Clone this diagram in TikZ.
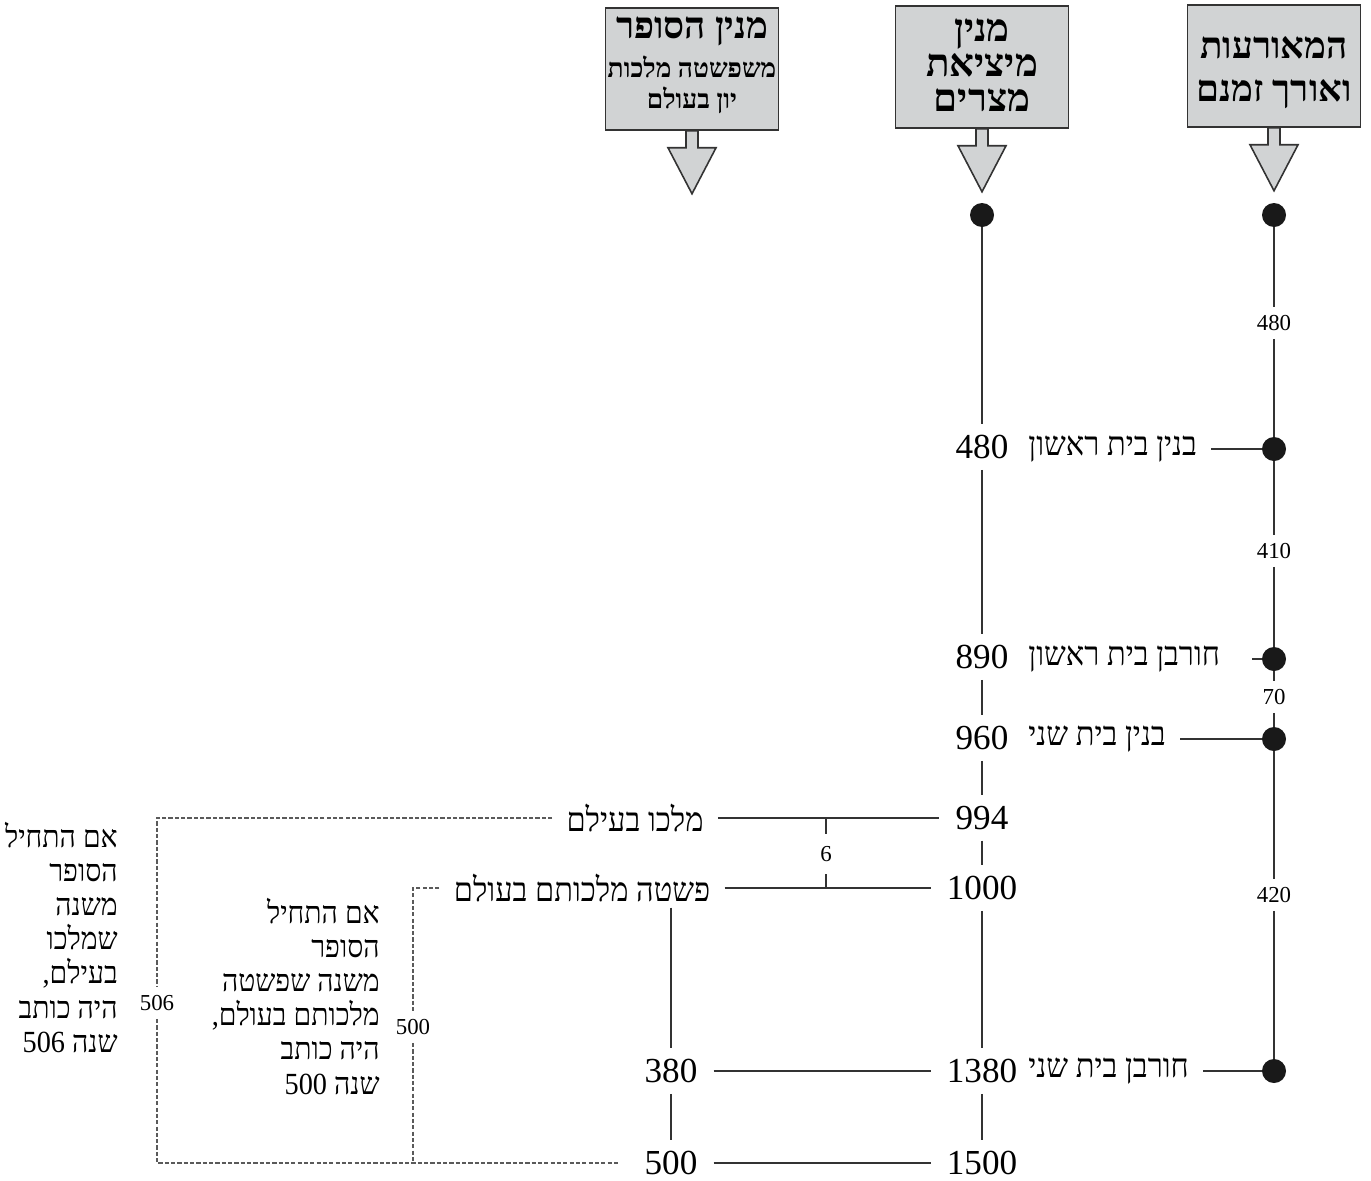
\documentclass[tikz,border=0pt]{standalone}
\usepackage{fontspec}
\setmainfont{Liberation Serif}
\newfontfamily\hebfont[Script=Hebrew, FakeStretch=0.92]{Liberation Serif}
\newfontfamily\hebhdr[Script=Hebrew]{Liberation Serif}
\TeXXeTstate=1
\usepackage{xcolor}
\definecolor{hdrFill}{HTML}{D1D3D4}
\definecolor{lineDark}{HTML}{333333}
\definecolor{dashGray}{HTML}{5A5A5A}
\usetikzlibrary{calc}
\newcommand{\heb}[1]{\beginR#1\endR}

\tikzset{
  hdrbox/.style={draw=lineDark, line width=0.9pt, fill=hdrFill, minimum width=3.46cm, minimum height=2.44cm},
  hdrtext/.style={align=center, inner sep=0pt},
  hdrarrow/.style={draw=lineDark, line width=0.9pt, fill=hdrFill},
  evdot/.style={circle, fill=black!90, minimum size=0.48cm, inner sep=0pt},
  bignum/.style={font=\fontsize{20}{22}\selectfont, inner xsep=9pt, inner ysep=6pt},
  spannum/.style={font=\fontsize{13}{14}\selectfont, inner sep=4.5pt},
  evlabel/.style={font=\hebfont\fontsize{19}{21}\selectfont, inner xsep=8pt, inner ysep=3pt},
  notetext/.style={font=\hebfont\fontsize{17.5}{19.4}\selectfont, align=right, anchor=north east, inner sep=0pt},
  timeline/.style={draw=lineDark, line width=0.8pt},
  dashline/.style={draw=dashGray, line width=0.8pt, dash pattern=on 2.4pt off 1.2pt},
}

\begin{document}
\begin{tikzpicture}[x=0.02cm, y=-0.02cm]
  \useasboundingbox (0,0) rectangle (1371,1180);

  % header boxes
  \node[hdrbox] (hdrSofer) at (692,69) {};
  \node[hdrbox] (hdrMitz) at (982,67) {};
  \node[hdrbox] (hdrMeor) at (1274,66) {};
  \node[hdrtext, font=\hebhdr\bfseries\fontsize{15}{18}\selectfont] (tSofer) at ([yshift=2pt]hdrSofer.center)
    {{\fontsize{21}{24}\selectfont\heb{מנין הסופר}}\\[4pt]\heb{משפשטה מלכות}\\\heb{יון בעולם}};
  \node[hdrtext, font=\hebhdr\bfseries\fontsize{22}{20}\selectfont] (tMitz) at ([yshift=1pt]hdrMitz.center)
    {\heb{מנין}\\\heb{מיציאת}\\\heb{מצרים}};
  \node[hdrtext, font=\hebhdr\bfseries\fontsize{21}{24.5}\selectfont] (tMeor) at ([yshift=-4pt]hdrMeor.center)
    {\heb{המאורעות}\\\heb{ואורך זמנם}};
  \foreach \b in {hdrSofer,hdrMitz,hdrMeor}
    \filldraw[hdrarrow] ($(\b.south)+(-6,0)$) -- ++(0,17) -- ++(-18,0) -- ++(24,46) -- ++(24,-46) -- ++(-18,0) -- ++(0,-17) -- cycle;

  % right column: events
  \node[evdot] (r0) at (1274,215) {};
  \node[evdot] (r1) at (1274,449) {};
  \node[evdot] (r2) at (1274,659) {};
  \node[evdot] (r3) at (1274,739) {};
  \node[evdot] (r4) at (1274,1071) {};
  \node[spannum] (s480) at (1274,323) {480};
  \node[spannum] (s410) at (1274,551) {410};
  \node[spannum] (s70) at (1274,697) {70};
  \node[spannum] (s420) at (1274,895) {420};
  \draw[timeline] (r0) -- (s480) -- (r1) -- (s410) -- (r2) -- (s70) -- (r3) -- (s420) -- (r4);

  \node[evlabel, anchor=west] (e1) at (1014,449) {\heb{בנין בית ראשון}};
  \node[evlabel, anchor=west] (e2) at (1014,659) {\heb{חורבן בית ראשון}};
  \node[evlabel, anchor=west] (e3) at (1014,739) {\heb{בנין בית שני}};
  \node[evlabel, anchor=west] (e4) at (1014,1071) {\heb{חורבן בית שני}};
  \draw[timeline] (e1) -- (r1);
  \draw[timeline] ([xshift=10pt]e2.east) -- (r2);
  \draw[timeline] (e3) -- (r3);
  \draw[timeline] (e4) -- (r4);

  % middle column: years from the exodus
  \node[evdot] (md0) at (982,215) {};
  \node[bignum] (m480) at (982,447) {480};
  \node[bignum] (m890) at (982,657) {890};
  \node[bignum] (m960) at (982,738) {960};
  \node[bignum] (m994) at (982,818) {994};
  \node[bignum] (m1000) at (982,888) {1000};
  \node[bignum] (m1380) at (982,1071) {1380};
  \node[bignum] (m1500) at (982,1163) {1500};
  \draw[timeline] (md0) -- (m480) -- (m890) -- (m960) -- (m994) -- (m1000) -- (m1380) -- (m1500);

  % left column: counting of the scribe
  \node[evlabel] (mb) at (635,818) {\heb{מלכו בעילם}};
  \node[evlabel] (pm) at (582,888) {\heb{פשטה מלכותם בעולם}};
  \node[bignum] (l380) at (671,1071) {380};
  \node[bignum] (l500) at (671,1163) {500};
  \draw[timeline] (pm.south -| l380) -- (l380) -- (l500);
  \draw[timeline] (mb) -- (m994);
  \draw[timeline] (pm) -- (m1000);
  \draw[timeline] (l380) -- (m1380);
  \draw[timeline] (l500) -- (m1500);

  \node[spannum, inner sep=7pt] (n6) at (826,854) {6};
  \draw[timeline] (n6 |- m994) -- (n6.north);
  \draw[timeline] (n6 |- m1000) -- (n6.south);

  % dashed brackets
  \node[spannum] (n506) at (157,1003) {506};
  \node[spannum] (n500) at (413,1027) {500};
  \draw[dashline] (mb.west) -- (mb.west -| n506) -- (n506.north);
  \draw[dashline, shorten >=6pt] (n506.south) -- (n506 |- l500) -- (l500.west);
  \draw[dashline] (pm.west) -- (pm.west -| n500) -- (n500.north);
  \draw[dashline] (n500.south) -- (n500 |- l500);

  % notes
  \node[notetext] (tb1) at (118,822) {\heb{אם התחיל}\\\heb{הסופר}\\\heb{משנה}\\\heb{שמלכו}\\\heb{בעילם,}\\\heb{היה כותב}\\\heb{שנה 506}};
  \node[notetext] (tb2) at (380,898) {\heb{אם התחיל}\\\heb{הסופר}\\\heb{משנה שפשטה}\\\heb{מלכותם בעולם,}\\\heb{היה כותב}\\\heb{שנה 500}};
\end{tikzpicture}
\end{document}
